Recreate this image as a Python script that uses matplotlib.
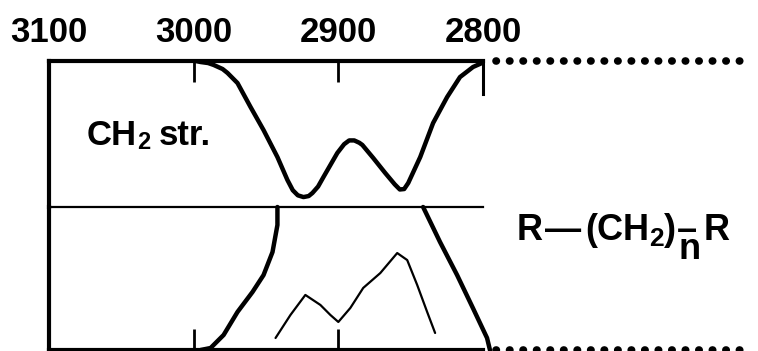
import matplotlib
matplotlib.use("Agg")
import matplotlib.pyplot as plt

plt.rcParams['font.family'] = ['Liberation Sans', 'DejaVu Sans']
plt.rcParams['font.weight'] = 'bold'

# Wavenumber axis (cm^-1)
tick_wavenumbers = [3100, 3000, 2900, 2800]
tick_labels = ["3100", "3000", "2900", "2800"]
lower_ticks = [3000, 2900]

# Upper trace: CH2 stretching band, transmittance (%)
upper_wn = [2998.6, 2995.2, 2990.0, 2986.2, 2980.0, 2976.6, 2969.7, 2960.7,
            2951.7, 2942.1, 2935.2, 2931.5, 2928.0, 2924.1, 2920.5, 2917.9,
            2914.0, 2910.3, 2900.7, 2896.0, 2892.5, 2889.0, 2885.5, 2883.4,
            2875.9, 2867.6, 2861.0, 2857.5, 2854.5, 2851.7, 2843.4, 2834.5,
            2824.8, 2815.9, 2810.0, 2806.9, 2800.7]
upper_t = [100.0, 99.3, 98.6, 97.3, 94.5, 91.8, 84.9, 68.5,
           52.7, 34.2, 18.5, 11.5, 8.0, 6.8, 7.5, 9.6,
           14.0, 20.5, 37.0, 43.0, 45.6, 45.6, 44.0, 42.5,
           33.6, 23.3, 15.5, 12.0, 12.3, 16.4, 34.2, 57.5,
           75.3, 89.0, 93.5, 95.9, 98.6]

# Lower traces (relative units)
edge_hi_wn = [2942.1, 2942.1, 2945.5, 2951.7, 2959.3, 2969.7, 2979.3, 2988.3, 2995.2]
edge_hi_y = [100.0, 87.4, 68.5, 52.4, 40.6, 26.6, 10.5, 1.4, 0.0]

edge_lo_wn = [2841.4, 2829.7, 2817.9, 2807.0, 2797.2, 2795.2]
edge_lo_y = [100.0, 75.5, 52.4, 29.4, 8.4, 0.0]

inner_wn = [2943.4, 2933.1, 2922.8, 2912.4, 2905.5, 2900.0, 2891.7, 2882.8,
            2871.0, 2859.3, 2852.4, 2845.5, 2838.6, 2833.1]
inner_y = [8.4, 24.5, 38.5, 31.5, 24.5, 19.6, 29.4, 43.4,
           53.8, 67.8, 62.9, 45.5, 26.6, 11.9]

W, H = 758, 351
fig = plt.figure(figsize=(W / 100, H / 100), dpi=100)
renderer = fig.canvas.get_renderer()

x_left, x_right = 49, 483
y_top, y_mid, y_bot = 61, 207, 350

ax_top = fig.add_axes([x_left / W, (H - y_mid) / H,
                       (x_right - x_left) / W, (y_mid - y_top) / H])
ax_bot = fig.add_axes([x_left / W, (H - y_bot) / H,
                       (x_right - x_left) / W, (y_bot - y_mid) / H])

for ax in (ax_top, ax_bot):
    ax.set_xlim(3100, 2800)
    ax.set_ylim(0, 100)
    ax.set_yticks([])
    ax.spines['right'].set_visible(False)
    ax.spines['left'].set_linewidth(3)
    ax.patch.set_visible(False)

# upper panel frame
ax_top.spines['top'].set_linewidth(3)
ax_top.spines['bottom'].set_linewidth(1.6)
ax_top.set_xticks(tick_wavenumbers)
ax_top.set_xticklabels(tick_labels)
ax_top.tick_params(axis='x', which='major', direction='in', length=15, width=2,
                   top=True, bottom=False, labeltop=True, labelbottom=False,
                   labelsize=25, pad=9)
ax_top.axvline(2800, ymin=1 - 33 / 146, ymax=1, color='black', lw=2.2, clip_on=False)

# lower panel frame
ax_bot.spines['top'].set_visible(False)
ax_bot.spines['bottom'].set_linewidth(3)
ax_bot.set_xticks(lower_ticks)
ax_bot.tick_params(axis='x', direction='in', length=15, width=2,
                   labelbottom=False)

# traces
ax_top.plot(upper_wn, upper_t, color='black', lw=3.2,
            solid_capstyle='round', solid_joinstyle='round')
ax_bot.plot(edge_hi_wn, edge_hi_y, color='black', lw=3.2,
            solid_capstyle='round', solid_joinstyle='round', clip_on=False)
ax_bot.plot(edge_lo_wn, edge_lo_y, color='black', lw=3.2,
            solid_capstyle='round', solid_joinstyle='round', clip_on=False)
ax_bot.plot(inner_wn, inner_y, color='black', lw=1.6,
            solid_capstyle='round', solid_joinstyle='round')

# dotted baselines continuing to the right
for ax, yv in ((ax_top, 1.0), (ax_bot, 0.0)):
    ax.plot([1.03, 1.615], [yv, yv], transform=ax.transAxes, color='black',
            lw=5.5, linestyle=(0, (0.05, 1.72)), dash_capstyle='round', clip_on=False)


def put(px, py, s, size):
    """Place a text piece with its left baseline at pixel (px, py) from the top-left."""
    return fig.text(px / W, (H - py) / H, s, fontsize=size, ha='left', va='baseline')


def after(t, gap=0.0):
    """Pixel x just right of a placed text piece."""
    return t.get_window_extent(renderer).x1 + gap


# band label: CH2 str.
t = put(87, 145, "CH", 25)
t = put(after(t, 0), 149, "2", 17)
put(after(t, 8), 145, "str.", 25)

# structural formula: R—(CH2)n–R
t = put(517, 240, "R", 26)
t = put(after(t, 2), 240, "\u2014", 26)
t = put(after(t, 4), 240, "(CH", 26)
t = put(after(t, 0), 246, "2", 19)
t = put(after(t, 0), 240, ")", 26)
x_bond = after(t, 1)
t = put(x_bond, 240, "\u2013", 26)
put(x_bond + 2, 259, "n", 26)
put(after(t, 7), 240, "R", 26)

fig.savefig("out.png", dpi=100)
